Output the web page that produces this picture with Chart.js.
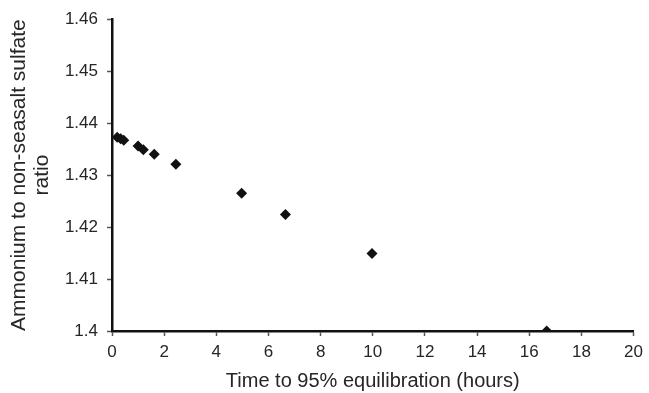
<!DOCTYPE html>
<html>
<head>
<meta charset="utf-8">
<script src="https://cdn.jsdelivr.net/npm/chart.js@4/dist/chart.umd.min.js"></script>
<style>
  html, body { margin: 0; padding: 0; background: #fff; }
  #wrap { width: 649px; height: 393px; }
</style>
</head>
<body>
<div id="wrap"><canvas id="c" width="649" height="393"></canvas></div>
<script>
// Data
const times = [0.2, 0.33, 0.45, 1.0, 1.2, 1.62, 2.45, 4.97, 6.65, 9.97, 16.67];
const ratios = [1.4373, 1.4370, 1.4367, 1.4356, 1.4349, 1.4340, 1.4321, 1.4265, 1.4224, 1.4149, 1.4000];

const xTicks = [0, 2, 4, 6, 8, 10, 12, 14, 16, 18, 20];
const yTickValues = [1.40, 1.41, 1.42, 1.43, 1.44, 1.45, 1.46];
const yTickLabels = ['1.4', '1.41', '1.42', '1.43', '1.44', '1.45', '1.46'];

const xTitle = 'Time to 95% equilibration (hours)';
const yTitle = ['Ammonium to non-seasalt sulfate', 'ratio'];

const points = times.map((t, i) => ({ x: t, y: ratios[i] }));

const textColor = '#262626';
const fontFamily = '"Liberation Sans", Arial, Helvetica, sans-serif';

new Chart(document.getElementById('c'), {
  type: 'scatter',
  data: {
    datasets: [{
      data: points,
      pointStyle: 'rectRot',
      pointRadius: 5.5,
      pointHoverRadius: 5.5,
      backgroundColor: '#111',
      borderColor: '#111',
      borderWidth: 0
    }]
  },
  options: {
    responsive: false,
    animation: false,
    events: [],
    layout: { padding: { left: 0, right: 15, top: 16, bottom: 0 } },
    plugins: {
      legend: { display: false },
      tooltip: { enabled: false }
    },
    scales: {
      x: {
        type: 'linear',
        min: 0,
        max: 20,
        afterFit: (s) => { s.height = 62; },
        afterBuildTicks: (s) => { s.ticks = xTicks.map(v => ({ value: v })); },
        border: { display: true, color: '#111', width: 2.5 },
        grid: { display: true, drawOnChartArea: false, drawTicks: true, tickLength: 5, tickColor: '#555', tickWidth: 1.5 },
        ticks: {
          color: textColor,
          font: { family: fontFamily, size: 17 },
          padding: 6,
          maxRotation: 0,
          callback: (v) => String(v)
        },
        title: {
          display: true,
          text: xTitle,
          color: textColor,
          font: { family: fontFamily, size: 20 },
          padding: { top: 0, bottom: 0 }
        }
      },
      y: {
        type: 'linear',
        min: 1.4,
        max: 1.46,
        afterFit: (s) => { s.width = 112; },
        afterBuildTicks: (s) => { s.ticks = yTickValues.map(v => ({ value: v })); },
        border: { display: true, color: '#111', width: 2.5 },
        grid: { display: true, drawOnChartArea: false, drawTicks: true, tickLength: 5, tickColor: '#555', tickWidth: 1.5 },
        ticks: {
          color: textColor,
          font: { family: fontFamily, size: 17 },
          padding: 9,
          callback: (v) => {
            const i = yTickValues.findIndex(t => Math.abs(t - v) < 1e-9);
            return i >= 0 ? yTickLabels[i] : '';
          }
        },
        title: {
          display: true,
          text: yTitle,
          color: textColor,
          font: { family: fontFamily, size: 21, lineHeight: 1.1 },
          padding: { top: 8, bottom: 0 }
        }
      }
    }
  }
});
</script>
</body>
</html>
